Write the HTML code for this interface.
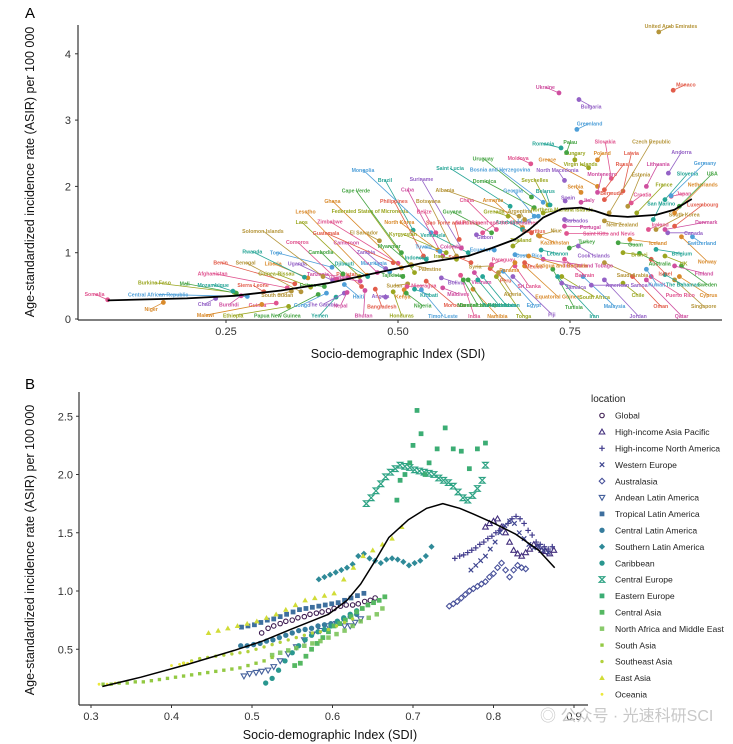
<!DOCTYPE html>
<html><head><meta charset="utf-8">
<style>
html,body{margin:0;padding:0;background:#fff;}
svg{display:block;font-family:"Liberation Sans","Noto Sans CJK SC",sans-serif;}
</style></head>
<body>
<svg id="fig" width="733" height="744" viewBox="0 0 733 744">
<text x="25" y="18" font-size="15" fill="#000">A</text>
<text x="25" y="389" font-size="15" fill="#000">B</text>
<g id="pa"></g>
<g id="pb"></g>
<text x="540" y="721" font-size="16" fill="#c8c8c8">◎ 公众号 · 光速科研SCI</text>
</svg>
<script>
// ---------- Panel A data ----------
const countries=["Somalia","Niger","Burkina Faso","Mali","Mozambique","Central African Republic","Chad","Burundi","Sierra Leone","South Sudan","Guinea","Malawi","Ethiopia","Papua New Guinea","Yemen","Congo","The Gambia","Nepal","Benin","Senegal","Afghanistan","Liberia","Guinea-Bissau","Eritrea","Rwanda","Togo","Uganda","Tanzania","Pakistan","Solomon Islands","Comoros","Lesotho","Laos","Cambodia","Djibouti","Mauritania","Zambia","Cameroon","Guatemala","El Salvador","Zimbabwe","Ghana","Federated States of Micronesia","Cape Verde","Brazil","Mongolia","Suriname","Cuba","Philippines","Botswana","Belize","North Korea","Kyrgyzstan","Myanmar","Venezuela","Haiti","Angola","Bhutan","Bangladesh","Sudan","Nicaragua","Kenya","Honduras","Nigeria","Kiribati","Timor-Leste","Bolivia","Maldives","Morocco","Palestine","India","Namibia","Tonga","Dominican Republic","Uzbekistan","Egypt","Fiji","Vietnam","Peru","Algeria","Sri Lanka","Equatorial Guinea","South Africa","Tunisia","Iran","Malaysia","Jordan","Qatar","Oman","Singapore","Puerto Rico","Cyprus","Chile","Sweden","The Bahamas","Kuwait","American Samoa","Finland","Israel","Saudi Arabia","Bahrain","Norway","UK","Australia","Belgium","Switzerland","Canada","Denmark","Luxembourg","South Korea","Japan","Netherlands","France","USA","Slovenia","Germany","Andorra","Lithuania","Latvia","Czech Republic","Slovakia","Poland","Hungary","Palau","Romania","Greenland","Bulgaria","Ukraine","Monaco","United Arab Emirates","Moldova","Greece","Virgin Islands","Uruguay","Saint Lucia","Bosnia and Herzegovina","North Macedonia","Montenegro","Russia","Estonia","Croatia","Serbia","Seychelles","Dominica","Belarus","Georgia","Spain","Italy","Bermuda","Albania","China","Armenia","Grenada","Guyana","Azerbaijan","Libya","Barbados","Portugal","Mauritius","Niue","Saint Kitts and Nevis","Kazakhstan","Thailand","Turkey","Lebanon","Costa Rica","Cook Islands","Trinidad and Tobago","Mexico","New Zealand","Ireland","Iceland","Brunei","Guam","San Marino","Ecuador","Gabon","Colombia","Samoa","Syria","Paraguay","Panama","Iraq","Tajikistan","Indonesia","Tuvalu","Jamaica","Vanuatu","Sao Tome and Principe","Argentina","Saint Vincent and the Grenadines","Antigua and Barbuda","Northern Mariana Islands","Marshall Islands","Turkmenistan"];
const countrySdi=[0.078,0.159,0.262,0.265,0.260,0.281,0.235,0.272,0.305,0.345,0.323,0.302,0.341,0.384,0.41,0.396,0.422,0.426,0.35,0.359,0.339,0.369,0.373,0.393,0.364,0.404,0.405,0.428,0.447,0.391,0.411,0.455,0.444,0.42,0.456,0.488,0.482,0.47,0.493,0.473,0.5,0.505,0.524,0.505,0.522,0.548,0.592,0.565,0.537,0.585,0.555,0.558,0.57,0.52,0.602,0.422,0.482,0.452,0.467,0.514,0.513,0.509,0.493,0.512,0.524,0.534,0.563,0.565,0.541,0.519,0.591,0.609,0.643,0.602,0.623,0.653,0.667,0.611,0.634,0.646,0.670,0.684,0.738,0.725,0.732,0.769,0.80,0.861,0.841,0.902,0.868,0.909,0.827,0.912,0.888,0.861,0.781,0.902,0.868,0.80,0.742,0.912,0.888,0.851,0.875,0.928,0.892,0.888,0.902,0.875,0.897,0.902,0.847,0.909,0.888,0.897,0.893,0.861,0.827,0.807,0.81,0.79,0.757,0.745,0.737,0.76,0.763,0.734,0.90,0.879,0.693,0.79,0.777,0.694,0.663,0.711,0.742,0.79,0.80,0.834,0.839,0.766,0.718,0.698,0.721,0.698,0.743,0.766,0.80,0.676,0.643,0.681,0.66,0.636,0.681,0.704,0.742,0.742,0.694,0.704,0.745,0.706,0.667,0.749,0.708,0.67,0.762,0.711,0.684,0.80,0.864,0.837,0.827,0.82,0.871,0.64,0.614,0.592,0.606,0.636,0.636,0.67,0.585,0.507,0.541,0.561,0.738,0.445,0.589,0.684,0.623,0.69,0.711,0.595,0.616];
const countryAsir=[0.29,0.25,0.40,0.39,0.42,0.34,0.31,0.35,0.41,0.42,0.24,0.22,0.19,0.37,0.33,0.39,0.39,0.40,0.53,0.41,0.47,0.62,0.48,0.49,0.63,0.78,0.58,0.63,0.49,0.64,0.60,0.66,0.64,0.68,0.64,0.71,0.76,0.70,0.85,1.18,0.84,0.77,0.70,1.0,1.34,1.30,1.07,0.95,0.95,0.95,1.30,1.04,1.0,0.81,1.0,0.52,0.33,0.43,0.45,0.53,0.49,0.44,0.41,0.39,0.45,0.44,0.62,0.47,0.57,0.82,0.66,0.45,0.64,0.59,0.64,0.72,0.64,0.70,0.76,0.70,0.80,0.80,0.64,0.75,0.64,0.64,0.59,0.59,0.64,0.59,0.64,0.64,0.54,0.80,0.67,0.75,0.51,0.80,0.90,0.85,0.90,1.24,0.95,0.99,1.05,1.24,1.30,1.35,1.40,1.35,1.85,1.60,1.60,1.70,1.80,1.86,2.20,2.0,1.93,1.60,2.12,2.40,2.40,2.51,2.58,2.86,3.31,3.41,3.45,4.33,2.34,2.0,2.28,1.84,1.70,1.76,2.09,1.91,1.95,1.70,1.75,1.91,1.72,1.68,1.72,1.55,1.78,1.76,1.80,1.55,1.35,1.38,1.55,1.30,1.35,1.55,1.50,1.40,1.30,1.26,1.29,1.25,1.10,1.07,1.04,0.97,1.10,0.90,0.85,1.48,1.35,1.20,1.0,1.15,1.50,1.04,1.27,1.07,0.85,0.80,0.82,0.85,0.90,0.64,0.90,1.02,0.54,0.57,1.20,1.50,1.30,0.95,1.60,0.59,0.59];
// layout only: label shift relative to point (reference-zoom units)
const labelShift=[[-28,-17],[-26,19],[-170,-29],[-110,-29],[-42,-19],[-190,-6],[-24,17],[-26,26],[-23,-20],[-30,12],[-40,5],[-120,32],[-118,27],[-87,62],[-35,54],[-52,35],[-45,33],[-14,39],[-158,-63],[-118,-87],[-159,-43],[-74,-43],[-73,-40],[-35,-5],[-111,-76],[-119,-44],[-75,-50],[-65,-10],[-31,-37],[-128,-136],[-84,-111],[-131,-189],[-123,-162],[-47,-65],[-50,-39],[-34,-27],[-42,-49],[-66,-89],[-143,-88],[-33,-25],[-145,-124],[-147,-199],[-95,-183],[-97,-185],[-60,-149],[-145,-187],[-85,-205],[-75,-197],[-63,-164],[-60,-164],[-25,-63],[-82,-84],[-92,-55],[-48,-58],[-75,-53],[30,35],[-11,-3],[-3,74],[14,52],[-28,5],[36,-3],[-3,20],[18,71],[35,37],[31,17],[46,77],[32,14],[33,18],[60,70],[40,13],[29,121],[52,79],[58,117],[35,75],[50,85],[65,100],[83,112],[15,28],[33,35],[30,64],[30,60],[70,90],[70,60],[45,112],[78,117],[67,88],[72,107],[75,107],[60,88],[62,78],[62,55],[62,55],[32,35],[55,55],[38,30],[22,45],[75,0],[63,22],[30,42],[60,37],[43,47],[55,73],[40,22],[43,30],[55,12],[20,19],[55,0],[88,-22],[60,-64],[60,-45],[27,-8],[60,-84],[58,-84],[70,-97],[48,-77],[72,-97],[28,-63],[25,-67],[18,-113],[90,-212],[-13,-109],[10,-20],[0,-20],[8,-32],[-38,-13],[27,-18],[26,20],[-29,-17],[27,-17],[26,-18],[-27,-18],[-107,-80],[-17,-11],[-103,-115],[-128,-113],[-92,-97],[-15,-31],[10,-54],[42,-77],[28,-95],[24,-25],[-12,-17],[-28,-74],[-106,-79],[-10,-42],[-45,-77],[6,-11],[18,-7],[15,-20],[-158,-78],[-63,-87],[-63,-82],[-30,-14],[-84,-63],[-30,-23],[-30,14],[25,3],[55,2],[5,-5],[38,-14],[90,0],[32,19],[17,-18],[37,-19],[35,10],[30,2],[33,28],[95,19],[20,12],[38,11],[25,-15],[60,11],[35,6],[37,5],[17,-48],[-30,-2],[18,6],[-20,-5],[-30,-17],[-35,2],[25,-15],[-12,22],[-38,-10],[-20,-5],[-20,-5],[-35,-14],[30,12],[-45,-10],[-10,-50],[-10,-25],[30,-30],[70,28],[40,-10],[30,74],[45,75]];
const fitASdi=[0.078,0.193,0.262,0.33,0.398,0.466,0.534,0.602,0.636,0.670,0.691,0.711,0.738,0.766,0.786,0.807,0.834,0.875,0.902,0.927];
const fitAAsir=[0.28,0.31,0.35,0.43,0.54,0.69,0.84,0.95,1.07,1.20,1.35,1.53,1.66,1.68,1.63,1.56,1.54,1.57,1.65,1.81];
const ticksAX=[0.25,0.50,0.75], ticksAXLab=["0.25","0.50","0.75"];
const ticksAY=[0,1,2,3,4];

// ---------- Panel B data ----------
const regions=["Global","High-income Asia Pacific","High-income North America","Western Europe","Australasia","Andean Latin America","Tropical Latin America","Central Latin America","Southern Latin America","Caribbean","Central Europe","Eastern Europe","Central Asia","North Africa and Middle East","South Asia","Southeast Asia","East Asia","Oceania"];
const sdiGlobal=[0.512,0.52,0.527,0.535,0.542,0.55,0.557,0.565,0.572,0.58,0.587,0.595,0.602,0.61,0.617,0.625,0.632,0.64,0.647,0.653];
const asirGlobal=[0.64,0.68,0.70,0.72,0.74,0.75,0.77,0.78,0.80,0.81,0.82,0.83,0.85,0.87,0.88,0.88,0.89,0.91,0.92,0.94];
const sdiHIAP=[0.79,0.795,0.80,0.805,0.81,0.815,0.82,0.825,0.83,0.835,0.84,0.845,0.85,0.855,0.86,0.865,0.87,0.875];
const asirHIAP=[1.55,1.58,1.60,1.62,1.55,1.50,1.42,1.35,1.32,1.30,1.33,1.36,1.40,1.38,1.35,1.34,1.32,1.35];
const sdiHINA=[0.752,0.758,0.763,0.768,0.773,0.778,0.783,0.788,0.793,0.798,0.803,0.808,0.813,0.818,0.823,0.828,0.833,0.838,0.843,0.848,0.853,0.858,0.863,0.868,0.873];
const asirHINA=[1.28,1.30,1.31,1.33,1.35,1.37,1.40,1.42,1.45,1.47,1.50,1.52,1.55,1.58,1.62,1.64,1.62,1.58,1.52,1.48,1.42,1.40,1.38,1.36,1.38];
const sdiWE=[0.772,0.778,0.784,0.79,0.796,0.802,0.808,0.814,0.82,0.826,0.832,0.838,0.844,0.85,0.856,0.862,0.868];
const asirWE=[1.18,1.22,1.26,1.30,1.36,1.42,1.50,1.56,1.60,1.58,1.50,1.45,1.40,1.37,1.38,1.35,1.33];
const sdiAus=[0.745,0.75,0.755,0.76,0.765,0.77,0.775,0.78,0.785,0.79,0.795,0.80,0.805,0.81,0.815,0.82,0.825,0.83,0.835,0.84];
const asirAus=[0.87,0.89,0.91,0.94,0.97,1.00,1.02,1.04,1.06,1.08,1.12,1.15,1.20,1.24,1.18,1.12,1.18,1.22,1.20,1.19];
const sdiAndean=[0.49,0.497,0.505,0.512,0.52,0.527,0.535,0.545,0.555,0.565,0.575,0.585,0.595,0.605,0.615,0.622,0.628,0.635];
const asirAndean=[0.27,0.29,0.30,0.31,0.32,0.35,0.40,0.46,0.52,0.58,0.63,0.66,0.70,0.72,0.70,0.70,0.73,0.76];
const sdiTrop=[0.487,0.495,0.503,0.511,0.519,0.527,0.535,0.543,0.551,0.559,0.567,0.575,0.583,0.591,0.599,0.607,0.615,0.623,0.631,0.639];
const asirTrop=[0.69,0.70,0.71,0.73,0.75,0.76,0.78,0.80,0.82,0.84,0.85,0.86,0.87,0.88,0.89,0.90,0.92,0.94,0.96,0.98];
const sdiCLA=[0.486,0.494,0.502,0.51,0.518,0.526,0.534,0.542,0.55,0.558,0.566,0.574,0.582,0.59,0.598,0.606,0.614,0.622,0.63];
const asirCLA=[0.53,0.53,0.54,0.55,0.57,0.58,0.60,0.62,0.64,0.66,0.67,0.68,0.70,0.71,0.72,0.74,0.76,0.78,0.80];
const sdiSLA=[0.583,0.59,0.597,0.604,0.611,0.618,0.625,0.632,0.639,0.646,0.653,0.66,0.667,0.674,0.681,0.688,0.695,0.702,0.709,0.716,0.723];
const asirSLA=[1.10,1.12,1.14,1.16,1.18,1.20,1.23,1.30,1.32,1.28,1.26,1.24,1.27,1.28,1.27,1.25,1.22,1.24,1.26,1.30,1.38];
const sdiCarib=[0.517,0.525,0.533,0.541,0.55,0.558,0.566,0.574,0.582,0.59,0.598,0.606,0.614,0.622,0.63];
const asirCarib=[0.21,0.25,0.32,0.40,0.47,0.53,0.58,0.62,0.65,0.67,0.70,0.74,0.77,0.80,0.83];
const sdiCE=[0.642,0.648,0.654,0.66,0.666,0.672,0.678,0.684,0.69,0.696,0.702,0.708,0.714,0.72,0.726,0.732,0.738,0.744,0.75,0.756,0.762,0.768,0.774,0.78,0.786,0.79];
const asirCE=[1.75,1.80,1.86,1.92,1.98,2.02,2.05,2.08,2.07,2.06,2.04,2.03,2.02,2.01,2.00,1.97,1.95,1.93,1.90,1.85,1.80,1.78,1.82,1.88,1.95,2.08];
const sdiEE=[0.68,0.684,0.69,0.696,0.70,0.705,0.71,0.715,0.72,0.73,0.74,0.75,0.76,0.77,0.78,0.79];
const asirEE=[1.78,1.95,2.0,2.1,2.25,2.55,2.35,2.0,2.1,2.22,2.40,2.22,2.2,2.05,2.22,2.27];
const sdiCA=[0.553,0.56,0.567,0.574,0.581,0.588,0.595,0.602,0.609,0.616,0.623,0.63,0.637,0.644,0.651,0.658,0.665];
const asirCA=[0.36,0.38,0.44,0.50,0.55,0.60,0.65,0.70,0.72,0.75,0.78,0.82,0.85,0.88,0.90,0.92,0.95];
const sdiNAME=[0.525,0.535,0.545,0.555,0.565,0.575,0.585,0.595,0.605,0.615,0.625,0.635,0.645,0.655,0.662];
const asirNAME=[0.45,0.47,0.49,0.51,0.53,0.55,0.57,0.60,0.63,0.66,0.70,0.74,0.77,0.80,0.85];
const sdiSA=[0.315,0.325,0.335,0.345,0.355,0.365,0.375,0.385,0.395,0.405,0.415,0.425,0.435,0.445,0.455,0.465,0.475,0.485,0.495,0.505,0.515,0.525];
const asirSA=[0.20,0.20,0.21,0.21,0.22,0.22,0.23,0.24,0.25,0.26,0.27,0.28,0.29,0.30,0.31,0.32,0.33,0.34,0.36,0.38,0.40,0.43];
const sdiSEA=[0.415,0.425,0.435,0.445,0.455,0.465,0.475,0.485,0.495,0.505,0.515,0.525,0.535,0.545,0.555,0.565,0.575,0.585,0.595,0.605,0.615,0.625];
const asirSEA=[0.38,0.40,0.42,0.43,0.44,0.45,0.46,0.47,0.48,0.50,0.52,0.54,0.56,0.58,0.60,0.62,0.64,0.65,0.67,0.70,0.73,0.76];
const sdiEA=[0.446,0.458,0.47,0.482,0.494,0.506,0.518,0.53,0.542,0.554,0.566,0.578,0.59,0.602,0.614,0.626,0.638,0.65,0.662,0.674,0.686];
const asirEA=[0.64,0.66,0.68,0.70,0.72,0.74,0.77,0.80,0.84,0.88,0.92,0.94,0.96,0.98,1.10,1.20,1.30,1.35,1.40,1.45,1.55];
const sdiOce=[0.31,0.32,0.33,0.40,0.41,0.415,0.42,0.425];
const asirOce=[0.20,0.20,0.21,0.36,0.37,0.38,0.38,0.39];
const fitBSdi=[0.314,0.362,0.420,0.478,0.513,0.548,0.595,0.618,0.635,0.653,0.670,0.694,0.717,0.737,0.758,0.775,0.798,0.827,0.856,0.876];
const fitBAsir=[0.18,0.26,0.37,0.49,0.57,0.67,0.80,0.92,1.06,1.26,1.46,1.61,1.71,1.75,1.71,1.66,1.59,1.49,1.35,1.20];
const ticksBX=[0.3,0.4,0.5,0.6,0.7,0.8,0.9];
const ticksBY=[0.5,1.0,1.5,2.0,2.5];

const NS="http://www.w3.org/2000/svg";
function mk(tag,attrs,parent){const e=document.createElementNS(NS,tag);for(const k in attrs)e.setAttribute(k,attrs[k]);parent.appendChild(e);return e;}

// ---------- Panel A ----------
const pa=document.getElementById('pa');
const axL=78, axB=320;
const xA=v=>54+v*688, yA=v=>319-v*66.3;
const palA=["#e0548f","#d98a2b","#9aa620","#45a443","#26a596","#4e9fd8","#9462c6","#cf4fa0","#e25c4a","#b5953a"];
mk('line',{x1:axL,y1:25,x2:axL,y2:axB,stroke:'#333','stroke-width':1.2,},pa);
mk('line',{x1:axL,y1:axB,x2:722,y2:axB,stroke:'#333','stroke-width':1.2,},pa);
ticksAY.forEach(t=>{
  const l=mk('line',{x1:axL-3,y1:yA(t),x2:axL,y2:yA(t),stroke:'#333'},pa);
  
  
  const tx=mk('text',{x:axL-7,y:yA(t)+4,'font-size':11,'text-anchor':'end',fill:'#333'},pa);tx.textContent=String(t);
  
  
});
ticksAX.forEach((t,i)=>{
  const l=mk('line',{x1:xA(t),y1:axB,x2:xA(t),y2:axB+3,stroke:'#333'},pa);
  
  
  const tx=mk('text',{x:xA(t),y:axB+15,'font-size':11,'text-anchor':'middle',fill:'#333'},pa);tx.textContent=ticksAXLab[i];
  
  
});
let t1=mk('text',{x:398,y:358,'font-size':12.5,'text-anchor':'middle',fill:'#111'},pa);t1.textContent="Socio-demographic Index (SDI)";


let t2=mk('text',{x:0,y:0,'font-size':12.5,'text-anchor':'middle',fill:'#111',transform:'translate(34,172) rotate(-90)'},pa);t2.textContent="Age-standardized incidence rate (ASIR) per 100 000";


const gA=mk('g',{},pa);
countries.forEach((n,i)=>{
  const c=palA[i%palA.length];
  const px=xA(countrySdi[i]), py=yA(countryAsir[i]);
  const s=labelShift[i]||[20,-10];
  const lx=px+s[0]/2.13, ly=py+s[1]/2.97;
  const ln=mk('line',{x1:px,y1:py,x2:lx,y2:ly,stroke:c,'stroke-width':0.8},gA);
  
  
  const pt=mk('circle',{cx:px,cy:py,r:2.4,fill:c},gA);
  
  
  const lb=mk('text',{x:lx,y:ly+2,'font-size':5.2,'font-weight':'bold','text-anchor':'middle',fill:c},gA);
  lb.textContent=n;
  
  
});
const fa=mk('path',{d:fitASdi.map((v,i)=>(i?'L':'M')+xA(v).toFixed(1)+','+yA(fitAAsir[i]).toFixed(1)).join(''),fill:'none',stroke:'#000','stroke-width':1.8,'stroke-linejoin':'round'},pa);



// ---------- Panel B ----------
const pb=document.getElementById('pb');
const bL=79,bB=705;
const xB=v=>91+(v-0.3)*805, yB=v=>707.5-v*116.5;
mk('line',{x1:bL,y1:392,x2:bL,y2:bB,stroke:'#333','stroke-width':1.2,},pb);
mk('line',{x1:bL,y1:bB,x2:588,y2:bB,stroke:'#333','stroke-width':1.2,},pb);
ticksBY.forEach(t=>{
  const l=mk('line',{x1:bL-3,y1:yB(t),x2:bL,y2:yB(t),stroke:'#333'},pb);
  
  
  const tx=mk('text',{x:bL-6,y:yB(t)+4,'font-size':11,'text-anchor':'end',fill:'#333'},pb);tx.textContent=t.toFixed(1);
  
  
});
ticksBX.forEach(t=>{
  const l=mk('line',{x1:xB(t),y1:bB,x2:xB(t),y2:bB+3,stroke:'#333'},pb);
  
  
  const tx=mk('text',{x:xB(t),y:bB+15,'font-size':11,'text-anchor':'middle',fill:'#333'},pb);tx.textContent=t.toFixed(1);
  
  
});
let t3=mk('text',{x:330,y:739,'font-size':12.5,'text-anchor':'middle',fill:'#111'},pb);t3.textContent="Socio-demographic Index (SDI)";


let t4=mk('text',{x:0,y:0,'font-size':12.5,'text-anchor':'middle',fill:'#111',transform:'translate(34,550) rotate(-90)'},pb);t4.textContent="Age-standardized incidence rate (ASIR) per 100 000";



const seriesSdi=[sdiGlobal,sdiHIAP,sdiHINA,sdiWE,sdiAus,sdiAndean,sdiTrop,sdiCLA,sdiSLA,sdiCarib,sdiCE,sdiEE,sdiCA,sdiNAME,sdiSA,sdiSEA,sdiEA,sdiOce];
const seriesAsir=[asirGlobal,asirHIAP,asirHINA,asirWE,asirAus,asirAndean,asirTrop,asirCLA,asirSLA,asirCarib,asirCE,asirEE,asirCA,asirNAME,asirSA,asirSEA,asirEA,asirOce];
const colB=["#3b1a4f","#432f7d","#413b8c","#3f4690","#48519a","#44609c","#3e6f9e","#367c9d","#2f8a98","#2a978f","#2ea384","#3cad74","#55b862","#74c151","#93c943","#b2d13c","#d1dc37","#ece83a"];
const shapeB=["ocircle","otri","plus","cross","odiam","oitri","square","circle","diam","circle","hour","square","square","osq","ssq","dot","tri","sdot"];
function drawShape(g,sh,x,y,c,s){
  let e;
  switch(sh){
    case 'ocircle':e=mk('circle',{cx:x,cy:y,r:s*0.8,fill:'none',stroke:c,'stroke-width':1.1},g);break;
    case 'otri':e=mk('path',{d:`M${x},${y-s}L${x+s},${y+s*0.75}L${x-s},${y+s*0.75}Z`,fill:'none',stroke:c,'stroke-width':1.1},g);break;
    case 'oitri':e=mk('path',{d:`M${x},${y+s}L${x+s},${y-s*0.75}L${x-s},${y-s*0.75}Z`,fill:'none',stroke:c,'stroke-width':1.1},g);break;
    case 'plus':e=mk('path',{d:`M${x-s},${y}H${x+s}M${x},${y-s}V${y+s}`,stroke:c,'stroke-width':1.2},g);break;
    case 'cross':e=mk('path',{d:`M${x-s*0.8},${y-s*0.8}L${x+s*0.8},${y+s*0.8}M${x+s*0.8},${y-s*0.8}L${x-s*0.8},${y+s*0.8}`,stroke:c,'stroke-width':1.2},g);break;
    case 'odiam':e=mk('path',{d:`M${x},${y-s}L${x+s},${y}L${x},${y+s}L${x-s},${y}Z`,fill:'none',stroke:c,'stroke-width':1.1},g);break;
    case 'diam':e=mk('path',{d:`M${x},${y-s*1.1}L${x+s*1.1},${y}L${x},${y+s*1.1}L${x-s*1.1},${y}Z`,fill:c},g);break;
    case 'square':e=mk('rect',{x:x-s*0.85,y:y-s*0.85,width:s*1.7,height:s*1.7,fill:c},g);break;
    case 'osq':e=mk('rect',{x:x-s*0.8,y:y-s*0.8,width:s*1.6,height:s*1.6,fill:c,opacity:0.85},g);break;
    case 'ssq':e=mk('rect',{x:x-s*0.6,y:y-s*0.6,width:s*1.2,height:s*1.2,fill:c},g);break;
    case 'circle':e=mk('circle',{cx:x,cy:y,r:s*0.95,fill:c},g);break;
    case 'hour':e=mk('path',{d:`M${x-s},${y-s}H${x+s}L${x-s},${y+s}H${x+s}Z`,fill:'none',stroke:c,'stroke-width':1.2},g);break;
    case 'tri':e=mk('path',{d:`M${x},${y-s}L${x+s},${y+s*0.75}L${x-s},${y+s*0.75}Z`,fill:c},g);break;
    case 'dot':e=mk('circle',{cx:x,cy:y,r:s*0.6,fill:c},g);break;
    default:e=mk('circle',{cx:x,cy:y,r:s*0.5,fill:c},g);
  }
  return e;
}
seriesSdi.forEach((arr,si)=>{
  const g=mk('g',{},pb);
  
  
  arr.forEach((v,i)=>{
    const e=drawShape(g,shapeB[si],xB(v),yB(seriesAsir[si][i]),colB[si],2.8);
    
    
  });
});
const fb=mk('path',{d:fitBSdi.map((v,i)=>(i?'L':'M')+xB(v).toFixed(1)+','+yB(fitBAsir[i]).toFixed(1)).join(''),fill:'none',stroke:'#000','stroke-width':1.5,'stroke-linejoin':'round'},pb);



// legend
const lg=mk('g',{},pb);


const lt=mk('text',{x:591,y:402,'font-size':10,fill:'#222'},lg);lt.textContent="location";


regions.forEach((r,i)=>{
  const y=415.5+i*16.4;
  const e=mk('g',{},lg);
  
  
  drawShape(e,shapeB[i],602,y,colB[i],2.8);
  const tx=mk('text',{x:615,y:y+3.2,'font-size':8.6,fill:'#222'},e);tx.textContent=r;
});
</script>
</body></html>
